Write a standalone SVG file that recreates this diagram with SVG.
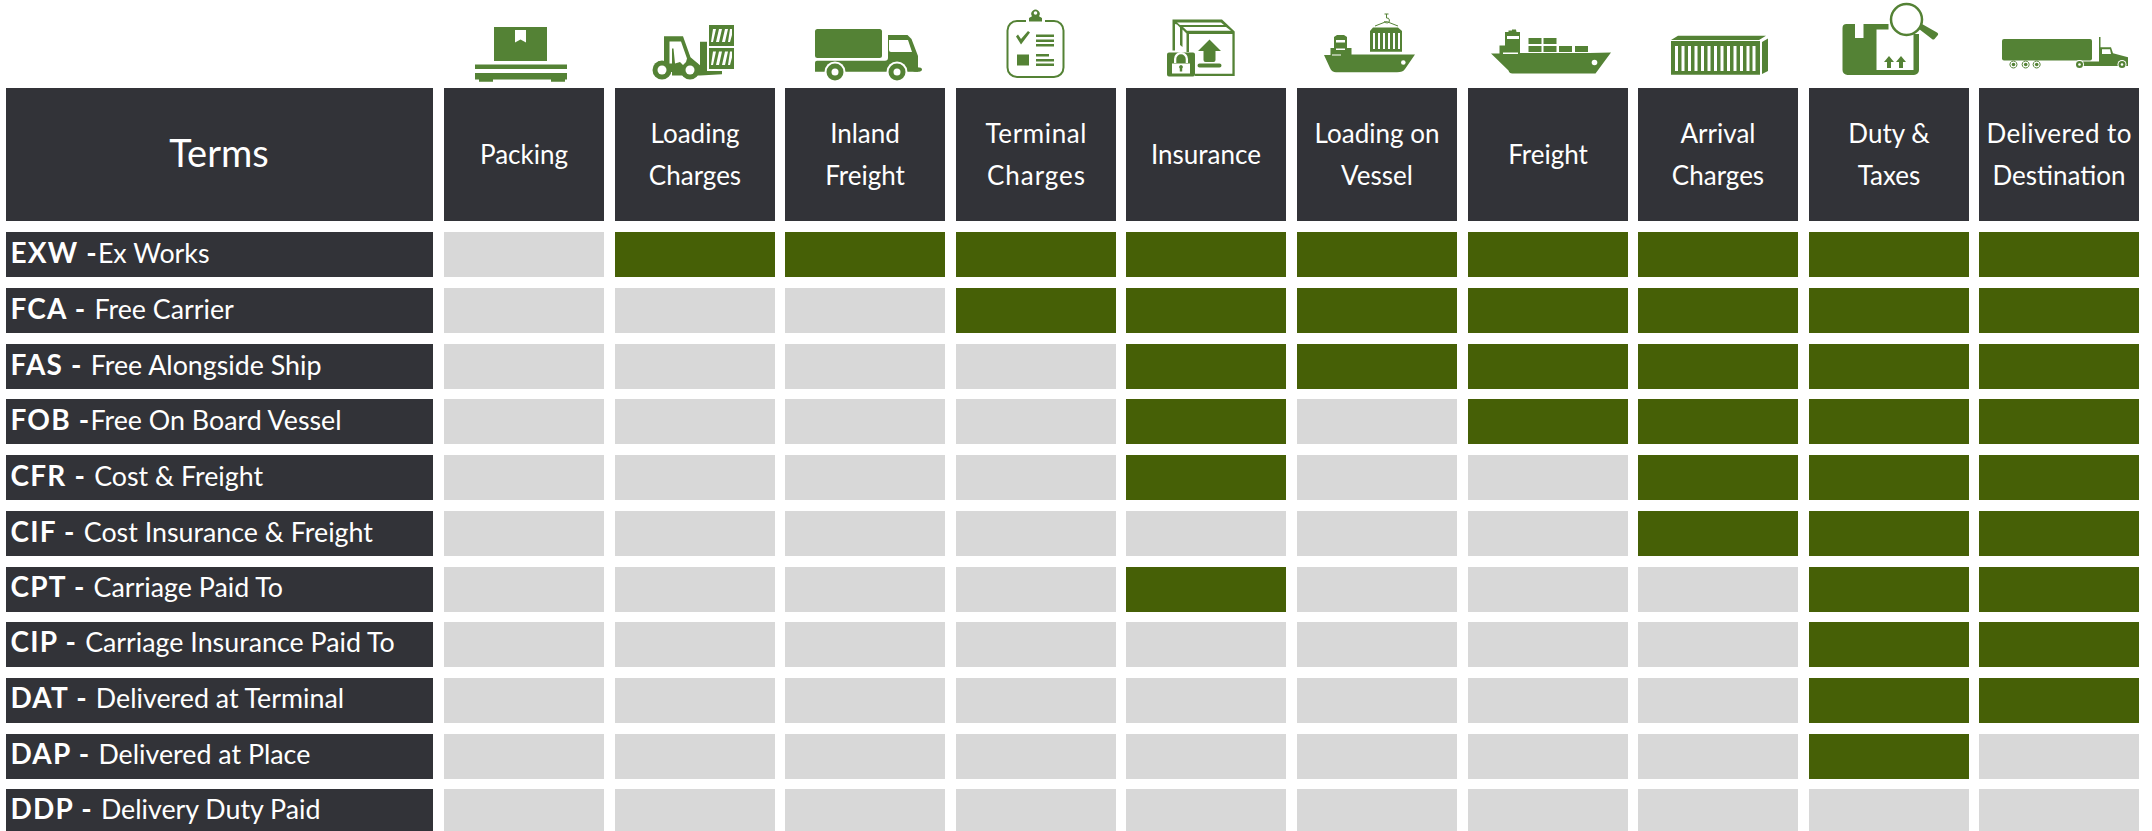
<svg xmlns="http://www.w3.org/2000/svg" width="2152" height="831" viewBox="0 0 2152 831">
<style>
text{font-family:"Lato","Liberation Sans",sans-serif;fill:#fff}
.h{font-size:26px;text-anchor:middle}
.t{font-size:38px;text-anchor:middle}
.r{font-size:26.800px}
.r tspan{font-weight:700;font-size:28px;letter-spacing:1.200px}
.d{fill:#323338}
.hd{width:160px;height:133px;fill:#323338}
.lb{width:427px;height:45px;fill:#323338}
.o,.y{width:160px;height:45px}
.o{fill:#d8d8d8}.y{fill:#466006}
#row-ddp rect{height:42px}
.i{fill:#548235}
.w{fill:#fff}
.s{fill:none;stroke:#548235}
</style>
<g id="terms"><rect x="6" y="88" width="427" height="133" class="d"/><text x="219" y="167" class="t">Terms</text></g>
<g id="packing"><rect class="hd" x="444" y="88"/>
<path class="i" d="M494 27h53v34h-53zM475 64.500h92v4.500h-92zM475 73h92v6.500h-2v2.300h-14v-2.300h-58v2.300h-14v-2.300h-4z"/><path class="w" d="M515 30h11v12.500l-5.500-3-5.500 3z"/>
<text x="524" y="164" class="h">Packing</text></g>
<g id="loading"><rect class="hd" x="615" y="88"/>
<path class="i" d="M709 25h25v21h-25zM709 48h25v21h-25z"/>
<path class="w" d="M713 29h3l-3 13h-2zM719 29h3l-3 13h-3zM725 29h3l-3 13h-3zM730 29h2v6l-2 7h-2zM713 51.500h3l-3 13.500h-2zM719 51.500h3l-3 13.500h-3zM725 51.500h3l-3 13.500h-3zM730 51.500h2v6l-2 7.500h-2z"/>
<path class="i" d="M664 36.300H683L690.500 57.300L700 65.300V41.800H707V71H722V74.300L700 75.500H672V72H658V61.500H664Z"/>
<circle class="i" cx="662" cy="70" r="9.500"/><circle class="i" cx="690" cy="70" r="9.500"/>
<path class="w" d="M669.500 41.500h11.500l6 17-1 3.500-3 3-3-3-5 1.500-1.500-15h-1.500v15h-2.500z"/>
<circle class="w" cx="662" cy="70" r="4.500"/><circle class="w" cx="690" cy="70" r="4.500"/>
<text x="695" y="143" class="h">Loading</text><text x="695" y="185" class="h">Charges</text></g>
<g id="inland"><rect class="hd" x="785" y="88"/>
<rect class="i" x="815" y="29" width="67" height="29" rx="2.500"/>
<path class="i" d="M884.500 35h23l4 4 6.500 17v15.700h-103v-9a2 2 0 0 1 2-2h68a3 3 0 0 0 3-3V35z"/>
<path class="w" d="M889 40h19l4 12h-21a2 2 0 0 1-2-2z"/>
<circle class="w" cx="835" cy="72" r="10.500"/><circle class="w" cx="897" cy="72" r="10.500"/>
<circle class="i" cx="835" cy="72" r="8.500"/><circle class="i" cx="897" cy="72" r="8.500"/>
<circle class="w" cx="835" cy="72" r="3.500"/><circle class="w" cx="897" cy="72" r="3.500"/>
<ellipse class="i" cx="917" cy="69.500" rx="5" ry="2.300"/>
<text x="865" y="143" class="h">Inland</text><text x="865" y="185" class="h">Freight</text></g>
<g id="terminal"><rect class="hd" x="956" y="88"/>
<path class="s" stroke-width="2" d="M1026 21h-9a9.500 9.500 0 0 0-9.500 9.500v37a9.500 9.500 0 0 0 9.500 9.500h37a9.500 9.500 0 0 0 9.500-9.500v-37a9.500 9.500 0 0 0-9.500-9.500h-9"/>
<path class="i" d="M1029 21.500v-3.500l3-1.800a4.200 4.200 0 1 1 7 0l3 1.800v3.500zM1016 36.500l2-2 3 4.500 7-8 2 1.500-9 12zM1036 34.500h18v2.500h-18zM1036 39.500h18v2.500h-18zM1036 44h18v2.500h-18zM1017 54.500h12v11h-12zM1036 54h13v2.500h-13zM1036 59h18v2.500h-18zM1036 63.500h18v2.500h-18z"/>
<circle class="w" cx="1035.500" cy="13" r="1.800"/>
<text x="1036" y="143" class="h" textLength="101">Terminal</text><text x="1036" y="185" class="h" textLength="98">Charges</text></g>
<g id="insurance"><rect class="hd" x="1126" y="88"/>
<path class="i" d="M1172.500 19.500H1222L1234.700 31.500V76H1195V73.700H1232.400V34H1189V52H1186.500V33.500L1182.500 29.500V47L1180 45V27.500L1177 24.500L1175 24V50.500H1172.500Z"/>
<path class="w" d="M1177 22.500H1221L1224 25H1180ZM1183 27H1226L1231 30.700H1187Z"/>
<path class="i" d="M1209.500 39.500l11.500 11.500h-5.500v9a2 2 0 0 1-2 2h-8a2 2 0 0 1-2-2v-9h-5.500zM1199.500 63.500h20a2 2 0 0 1 0 4h-20a2 2 0 0 1 0-4zM1169 52.500h24a2 2 0 0 1 2 2v20a2 2 0 0 1-2 2h-24a2 2 0 0 1-2-2v-20a2 2 0 0 1 2-2z"/>
<path class="w" d="M1174 63v-4a7 7 0 0 1 14 0v4h-2.300v-4a4.700 4.700 0 0 0-9.400 0v4zM1172 63.500h18v10h-18z"/>
<path class="i" d="M1181 65a2 2 0 0 1 1.200 3.500v3h-2.400v-3a2 2 0 0 1 1.200-3.500z"/>
<text x="1206" y="164" class="h">Insurance</text></g>
<g id="vessel"><rect class="hd" x="1297" y="88"/>
<path class="i" d="M1324 55H1330.500V48H1334V37L1337 35H1344L1347 37V48H1351.500V54.500H1415L1405 69Q1403 72.300 1397 72.300H1336Q1332 72.300 1330 68Z"/>
<path class="w" d="M1336 40h9v2.500h-9zM1336 48.500h9v1.500h-9zM1332 54.500h9v1h-9z"/>
<circle class="w" cx="1403.300" cy="62.500" r="2.300"/>
<path class="i" d="M1370 31l3-3.500h25l4 3.500v20.700h-32z"/>
<path class="w" d="M1373 33h2v16h-2zM1378 33h2v16h-2zM1383 33h2v16h-2zM1388 33h2v16h-2zM1393 33h2v16h-2zM1398 33h2v16h-2z"/>
<path class="s" stroke-width="1" d="M1375 26l11.500-4.500 11.500 4.500M1384.500 14h4M1386.500 14v4a2.500 2.500 0 1 1-2 3"/>
<text x="1377" y="143" class="h">Loading on</text><text x="1377" y="185" class="h">Vessel</text></g>
<g id="freight"><rect class="hd" x="1468" y="88"/>
<path class="i" d="M1491 53.500h8.500v-8h5.500v-13.500h3.500v-1.500h3.500v-1l4 0 .5 2.500h3.500v13.500h0v7.500h69.500l21.500-.5-15.500 21h-83a4 4 0 0 1-4-3z"/>
<path class="w" d="M1507 36h12v3h-12zM1503 52.500h15v1.500h-15z"/>
<path class="i" d="M1528.500 38h13v6h-13zM1543.500 38h13v6h-13zM1528.500 46h13v6h-13zM1543.500 46h13v6h-13zM1559 46h13v6h-13zM1575 46h13v6h-13z"/>
<circle class="w" cx="1594.500" cy="62.500" r="2.800"/>
<text x="1548" y="164" class="h">Freight</text></g>
<g id="arrival"><rect class="hd" x="1638" y="88"/>
<path class="i" d="M1671 40l7-4.300h88l-7 4.300zM1671 41h89v33.700h-89zM1762 42l6-3.500V71l-6 3z"/>
<path class="w" d="M1675 46h3v25h-3zM1681.500 46h3v25h-3zM1688 46h3v25h-3zM1694.500 46h3v25h-3zM1701 46h3v25h-3zM1707.500 46h3v25h-3zM1714 46h3v25h-3zM1720.500 46h3v25h-3zM1727 46h3v25h-3zM1733.500 46h3v25h-3zM1740 46h3v25h-3zM1746.500 46h3v25h-3zM1752.500 46h3v25h-3z"/>
<text x="1718" y="143" class="h">Arrival</text><text x="1718" y="185" class="h">Charges</text></g>
<g id="duty"><rect class="hd" x="1809" y="88"/>
<path class="i" d="M1847 24h8v14h8.500V24h25v5.500h-12V70h37V34h5.500v36a5 5 0 0 1-5 5h-66.500a5 5 0 0 1-5-5V28a4 4 0 0 1 4-4z"/>
<circle class="s" stroke-width="2.500" cx="1906.500" cy="19.500" r="15.500"/>
<path class="i" d="M1922 24l15 8.500a2 2 0 0 1 .5 3l-3 3.500a2 2 0 0 1-2.500 0l-13-10zM1889 56l5 6h-3v6h-4v-6h-3zM1901 56l5 6h-3v6h-4v-6h-3z"/>
<text x="1889" y="143" class="h">Duty &amp;</text><text x="1889" y="185" class="h">Taxes</text></g>
<g id="delivered"><rect class="hd" x="1979" y="88"/>
<rect class="i" x="2002" y="39" width="90" height="21.500" rx="2"/>
<path class="i" d="M2099 37h1.500v10.300h10.500l2 6 15 4v8.700h-52v-4.500h23z"/>
<path class="w" d="M2102 49.300h8l1 4.700h-9z"/>
<path class="s" stroke-width="1" d="M2013.500 61a3.500 3.500 0 1 1-.1 0M2025.700 61a3.500 3.500 0 1 1-.1 0M2036.700 61a3.500 3.500 0 1 1-.1 0"/>
<circle class="i" cx="2013.500" cy="64.500" r="1.800"/><circle class="i" cx="2025.700" cy="64.500" r="1.800"/><circle class="i" cx="2036.700" cy="64.500" r="1.800"/>
<circle class="w" cx="2079.500" cy="64.500" r="4.500"/><circle class="w" cx="2122" cy="64.500" r="4.500"/>
<circle class="i" cx="2079.500" cy="64.500" r="3.500"/><circle class="i" cx="2122" cy="64.500" r="3.500"/>
<circle class="w" cx="2079.500" cy="64.500" r="1.300"/><circle class="w" cx="2122" cy="64.500" r="1.300"/>
<text x="2059" y="143" class="h" textLength="145">Delivered to</text><text x="2059" y="185" class="h">Destination</text></g>
<g id="row-exw" transform="translate(0,232)"><rect class="lb" x="6"/><text x="10.500" y="31" class="r"><tspan>EXW -</tspan>Ex Works</text>
<rect class="o" x="444"/><rect class="y" x="615"/><rect class="y" x="785"/><rect class="y" x="956"/><rect class="y" x="1126"/><rect class="y" x="1297"/><rect class="y" x="1468"/><rect class="y" x="1638"/><rect class="y" x="1809"/><rect class="y" x="1979"/></g>
<g id="row-fca" transform="translate(0,288)"><rect class="lb" x="6"/><text x="10.500" y="31" class="r"><tspan>FCA - </tspan>Free Carrier</text>
<rect class="o" x="444"/><rect class="o" x="615"/><rect class="o" x="785"/><rect class="y" x="956"/><rect class="y" x="1126"/><rect class="y" x="1297"/><rect class="y" x="1468"/><rect class="y" x="1638"/><rect class="y" x="1809"/><rect class="y" x="1979"/></g>
<g id="row-fas" transform="translate(0,344)"><rect class="lb" x="6"/><text x="10.500" y="31" class="r"><tspan>FAS - </tspan>Free Alongside Ship</text>
<rect class="o" x="444"/><rect class="o" x="615"/><rect class="o" x="785"/><rect class="o" x="956"/><rect class="y" x="1126"/><rect class="y" x="1297"/><rect class="y" x="1468"/><rect class="y" x="1638"/><rect class="y" x="1809"/><rect class="y" x="1979"/></g>
<g id="row-fob" transform="translate(0,399)"><rect class="lb" x="6"/><text x="10.500" y="31" class="r"><tspan>FOB -</tspan>Free On Board Vessel</text>
<rect class="o" x="444"/><rect class="o" x="615"/><rect class="o" x="785"/><rect class="o" x="956"/><rect class="y" x="1126"/><rect class="o" x="1297"/><rect class="y" x="1468"/><rect class="y" x="1638"/><rect class="y" x="1809"/><rect class="y" x="1979"/></g>
<g id="row-cfr" transform="translate(0,455)"><rect class="lb" x="6"/><text x="10.500" y="31" class="r"><tspan>CFR - </tspan>Cost &amp; Freight</text>
<rect class="o" x="444"/><rect class="o" x="615"/><rect class="o" x="785"/><rect class="o" x="956"/><rect class="y" x="1126"/><rect class="o" x="1297"/><rect class="o" x="1468"/><rect class="y" x="1638"/><rect class="y" x="1809"/><rect class="y" x="1979"/></g>
<g id="row-cif" transform="translate(0,511)"><rect class="lb" x="6"/><text x="10.500" y="31" class="r"><tspan>CIF - </tspan>Cost Insurance &amp; Freight</text>
<rect class="o" x="444"/><rect class="o" x="615"/><rect class="o" x="785"/><rect class="o" x="956"/><rect class="o" x="1126"/><rect class="o" x="1297"/><rect class="o" x="1468"/><rect class="y" x="1638"/><rect class="y" x="1809"/><rect class="y" x="1979"/></g>
<g id="row-cpt" transform="translate(0,567)"><rect class="lb" x="6"/><text x="10.500" y="30" class="r"><tspan>CPT - </tspan>Carriage Paid To</text>
<rect class="o" x="444"/><rect class="o" x="615"/><rect class="o" x="785"/><rect class="o" x="956"/><rect class="y" x="1126"/><rect class="o" x="1297"/><rect class="o" x="1468"/><rect class="o" x="1638"/><rect class="y" x="1809"/><rect class="y" x="1979"/></g>
<g id="row-cip" transform="translate(0,622)"><rect class="lb" x="6"/><text x="10.500" y="30" class="r"><tspan>CIP - </tspan>Carriage Insurance Paid To</text>
<rect class="o" x="444"/><rect class="o" x="615"/><rect class="o" x="785"/><rect class="o" x="956"/><rect class="o" x="1126"/><rect class="o" x="1297"/><rect class="o" x="1468"/><rect class="o" x="1638"/><rect class="y" x="1809"/><rect class="y" x="1979"/></g>
<g id="row-dat" transform="translate(0,678)"><rect class="lb" x="6"/><text x="10.500" y="30" class="r"><tspan>DAT - </tspan>Delivered at Terminal</text>
<rect class="o" x="444"/><rect class="o" x="615"/><rect class="o" x="785"/><rect class="o" x="956"/><rect class="o" x="1126"/><rect class="o" x="1297"/><rect class="o" x="1468"/><rect class="o" x="1638"/><rect class="y" x="1809"/><rect class="y" x="1979"/></g>
<g id="row-dap" transform="translate(0,734)"><rect class="lb" x="6"/><text x="10.500" y="30" class="r"><tspan>DAP - </tspan>Delivered at Place</text>
<rect class="o" x="444"/><rect class="o" x="615"/><rect class="o" x="785"/><rect class="o" x="956"/><rect class="o" x="1126"/><rect class="o" x="1297"/><rect class="o" x="1468"/><rect class="o" x="1638"/><rect class="y" x="1809"/><rect class="o" x="1979"/></g>
<g id="row-ddp" transform="translate(0,789)"><rect class="lb" x="6"/><text x="10.500" y="30" class="r"><tspan>DDP - </tspan>Delivery Duty Paid</text>
<rect class="o" x="444"/><rect class="o" x="615"/><rect class="o" x="785"/><rect class="o" x="956"/><rect class="o" x="1126"/><rect class="o" x="1297"/><rect class="o" x="1468"/><rect class="o" x="1638"/><rect class="o" x="1809"/><rect class="o" x="1979"/></g>
</svg>
